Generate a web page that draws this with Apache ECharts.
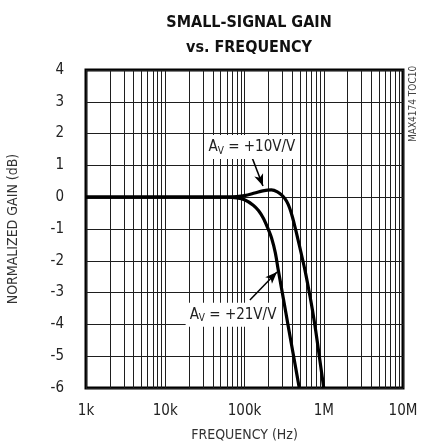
<!DOCTYPE html>
<html>
<head>
<meta charset="utf-8">
<script src="https://cdn.jsdelivr.net/npm/echarts@6/dist/echarts.min.js"></script>
<style>
html,body{margin:0;padding:0;background:#fff;}
#c{width:422px;height:444px;}
</style>
</head>
<body>
<div id="c"></div>
<script>
// ---- data ----
const freq10 = [1000, 50000, 80000, 100000, 134000, 170000, 218000, 260000, 306000, 340000, 371000, 400000, 430000, 470000, 512000, 580000, 652000, 720000, 792000, 890000, 1000000];
const gain10 = [0, 0, 0.02, 0.05, 0.13, 0.2, 0.23, 0.17, 0.03, -0.13, -0.34, -0.6, -0.9, -1.3, -1.7, -2.3, -2.95, -3.55, -4.2, -5.1, -6];
const freq21 = [1000, 60000, 80000, 100000, 129000, 150000, 173000, 195000, 220000, 245000, 267000, 310000, 357000, 420000, 491000];
const gain21 = [0, 0, -0.02, -0.08, -0.25, -0.42, -0.66, -0.95, -1.29, -1.75, -2.3, -3.2, -4.07, -5.05, -6];
const xTickLabels = ['1k', '10k', '100k', '1M', '10M'];
const yTicks = [-6, -5, -4, -3, -2, -1, 0, 1, 2, 3, 4];
const titleLines = ['SMALL-SIGNAL GAIN', 'vs. FREQUENCY'];
const seriesNames = ['+10V/V', '+21V/V'];
// annotation anchors in data space: [label pos, arrow tail, arrow tip]
const ann10 = {label: [124000, 1.58], tail: [124000, 1.26], tip: [171000, 0.35]};
const ann21 = {label: [71600, -3.70], tail: [117000, -3.23], tip: [257000, -2.35]};

const FONT = '"Liberation Sans Narrow", "DejaVu Sans Condensed", "Liberation Sans", sans-serif';

// minor log grid lines (2..9 per decade)
const minorGrid = [];
for (let d = 3; d < 7; d++) {
  for (let m = 2; m <= 9; m++) minorGrid.push(m * Math.pow(10, d));
}

const pair = (xs, ys) => xs.map((x, i) => [x, ys[i]]);
const gridColor = '#1e1e1e';

const annLabel = (a, name) => ({
  coord: a.label,
  symbolSize: 0,
  label: {
    show: true,
    position: 'inside',
    formatter: '{a|A}{s|V}{a| = ' + name + '}',
    backgroundColor: '#fff',
    padding: [3, 4, 3, 4],
    rich: {
      a: {fontFamily: FONT, fontSize: 15, color: '#222', lineHeight: 18},
      s: {fontFamily: FONT, fontSize: 10, color: '#222', lineHeight: 11, verticalAlign: 'bottom'}
    }
  }
});

const chart = echarts.init(document.getElementById('c'), null, {renderer: 'canvas'});
chart.setOption({
  animation: false,
  backgroundColor: '#fff',
  title: {
    text: titleLines.join('\n'),
    left: 244,
    top: 5,
    textAlign: 'center',
    textStyle: {fontFamily: FONT, fontSize: 16, fontWeight: 'bold', color: '#111', lineHeight: 25}
  },
  grid: {left: 86, top: 70, right: 19, bottom: 56, show: true, borderColor: '#000', borderWidth: 3,
         backgroundColor: 'transparent', containLabel: false, outerBoundsMode: 'none'},
  xAxis: {
    type: 'log', logBase: 10, min: 1000, max: 10000000,
    name: 'FREQUENCY (Hz)', nameLocation: 'middle', nameGap: 40,
    nameTextStyle: {fontFamily: FONT, fontSize: 14, color: '#333'},
    axisLine: {show: false}, axisTick: {show: false},
    axisLabel: {
      margin: 16, fontFamily: FONT, fontSize: 15, color: '#222',
      formatter: v => xTickLabels[Math.round(Math.log10(v)) - 3]
    },
    splitLine: {show: true, lineStyle: {color: gridColor, width: 1}}
  },
  yAxis: {
    type: 'value', min: yTicks[0], max: yTicks[yTicks.length - 1], interval: 1,
    name: 'NORMALIZED GAIN (dB)', nameLocation: 'middle', nameGap: 66, nameRotate: 90,
    nameTextStyle: {fontFamily: FONT, fontSize: 14, color: '#333'},
    axisLine: {show: false}, axisTick: {show: false},
    axisLabel: {margin: 22, fontFamily: FONT, fontSize: 15, color: '#222'},
    splitLine: {show: true, lineStyle: {color: gridColor, width: 1}}
  },
  graphic: [{
    type: 'text', rotation: Math.PI / 2, x: 408, y: 142,
    style: {text: 'MAX4174 TOC10', fontFamily: FONT, fontSize: 10, fill: '#444'}
  }],
  series: [
    {
      type: 'line', name: 'grid', data: [], silent: true, z: 1,
      markLine: {
        silent: true, symbol: 'none', animation: false,
        label: {show: false},
        lineStyle: {color: gridColor, width: 1, type: 'solid'},
        emphasis: {disabled: true},
        data: minorGrid.map(v => ({xAxis: v}))
      }
    },
    {
      type: 'line', name: seriesNames[0], data: pair(freq10, gain10), showSymbol: false, smooth: 0.3, z: 5,
      lineStyle: {color: '#000', width: 3.2}, clip: true
    },
    {
      type: 'line', name: seriesNames[1], data: pair(freq21, gain21), showSymbol: false, smooth: 0.3, z: 5,
      lineStyle: {color: '#000', width: 3.2}, clip: true
    },
    {
      type: 'line', name: 'ann', data: [], z: 10, silent: true,
      markLine: {
        silent: true, animation: false, symbol: ['none', 'arrow'], symbolSize: [7, 12],
        label: {show: false},
        lineStyle: {color: '#000', width: 1.5, type: 'solid'},
        emphasis: {disabled: true},
        data: [
          [{coord: ann10.tail}, {coord: ann10.tip}],
          [{coord: ann21.tail}, {coord: ann21.tip}]
        ]
      },
      markPoint: {
        silent: true, animation: false, symbol: 'rect',
        data: [annLabel(ann10, seriesNames[0]), annLabel(ann21, seriesNames[1])]
      }
    }
  ]
});
</script>
</body>
</html>
